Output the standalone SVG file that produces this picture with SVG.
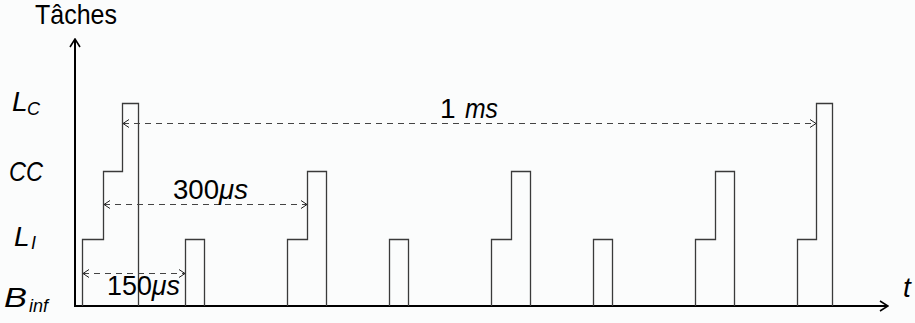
<svg xmlns="http://www.w3.org/2000/svg" width="915" height="323" viewBox="0 0 915 323">
  <defs>
    <marker id="axisHead" viewBox="0 0 10 12" refX="9" refY="6" markerWidth="10" markerHeight="12" markerUnits="userSpaceOnUse" orient="auto">
      <path d="M1,1 L9,6 L1,11" fill="none" stroke="#000" stroke-width="1.6"/>
    </marker>
    <marker id="dimHead" viewBox="0 0 8 10" refX="7" refY="5" markerWidth="8" markerHeight="10" markerUnits="userSpaceOnUse" orient="auto-start-reverse">
      <path d="M1,1 L7,5 L1,9" fill="none" stroke="#222" stroke-width="1"/>
    </marker>
  </defs>
  <style>
    .axis { fill: none; stroke: #000; stroke-width: 2; }
    .pulse { fill: none; stroke: #3a3a3a; stroke-width: 1.3; stroke-linejoin: miter; }
    .dim { fill: none; stroke: #444; stroke-width: 1.2; stroke-dasharray: 6 5; }
    text { font-family: "Liberation Sans", Arial, sans-serif; fill: #000; }
    .lbl { font-size: 28px; }
    .it { font-style: italic; }
    .sub { font-size: 18px; font-style: italic; }
  </style>
  <rect width="915" height="323" fill="#fbfcfc"/>

  <!-- axes -->
  <g id="axes">
    <line class="axis" x1="75" y1="306" x2="75" y2="39" marker-end="url(#axisHead)"/>
    <line class="axis" x1="74" y1="306" x2="888" y2="306" marker-end="url(#axisHead)"/>
    <text class="lbl" x="35" y="24" textLength="82" lengthAdjust="spacingAndGlyphs">Tâches</text>
    <text class="lbl it" x="903" y="297">t</text>
  </g>

  <!-- level labels -->
  <g id="level-LC">
    <text class="lbl it" x="12" y="111">L</text><text class="sub" x="27" y="115">C</text>
  </g>
  <g id="level-CC">
    <text class="lbl it" x="9" y="181" textLength="34" lengthAdjust="spacingAndGlyphs">CC</text>
  </g>
  <g id="level-LI">
    <text class="lbl it" x="14" y="246">L</text><text class="sub" x="31" y="249">I</text>
  </g>
  <g id="level-Binf">
    <text class="lbl it" x="4" y="307" textLength="23" lengthAdjust="spacingAndGlyphs">B</text><text class="sub" x="29" y="312">inf</text>
  </g>

  <!-- task pulses -->
  <g id="pulse-1"><path class="pulse" d="M82.5,306 V239.5 H103.5 V171.5 H122.5 V103.5 H138.5 V306"/></g>
  <g id="pulse-2"><path class="pulse" d="M185.5,306 V239.5 H204.5 V306"/></g>
  <g id="pulse-3"><path class="pulse" d="M287.5,306 V239.5 H307.5 V171.5 H326.5 V306"/></g>
  <g id="pulse-4"><path class="pulse" d="M389.5,306 V239.5 H408.5 V306"/></g>
  <g id="pulse-5"><path class="pulse" d="M491.5,306 V239.5 H511.5 V171.5 H530.5 V306"/></g>
  <g id="pulse-6"><path class="pulse" d="M593.5,306 V239.5 H612.5 V306"/></g>
  <g id="pulse-7"><path class="pulse" d="M695.5,306 V239.5 H715.5 V171.5 H734.5 V306"/></g>
  <g id="pulse-8"><path class="pulse" d="M797.5,306 V239.5 H816.5 V103.5 H832.5 V306"/></g>

  <!-- period dimensions -->
  <g id="connectors">
    <line class="dim" x1="123" y1="123.5" x2="816" y2="123.5" marker-start="url(#dimHead)" marker-end="url(#dimHead)"/>
    <line class="dim" x1="104" y1="204.5" x2="307" y2="204.5" marker-start="url(#dimHead)" marker-end="url(#dimHead)"/>
    <line class="dim" x1="83" y1="273.5" x2="185" y2="273.5" marker-start="url(#dimHead)" marker-end="url(#dimHead)"/>
  </g>
  <g id="dim-labels">
    <text class="lbl" x="440" y="118">1</text><text class="lbl it" x="465" y="118" textLength="33" lengthAdjust="spacingAndGlyphs">ms</text>
    <text class="lbl" x="173" y="199" textLength="75" lengthAdjust="spacingAndGlyphs">300<tspan class="it">μs</tspan></text>
    <text class="lbl" x="107" y="295" textLength="73" lengthAdjust="spacingAndGlyphs">150<tspan class="it">μs</tspan></text>
  </g>
</svg>
